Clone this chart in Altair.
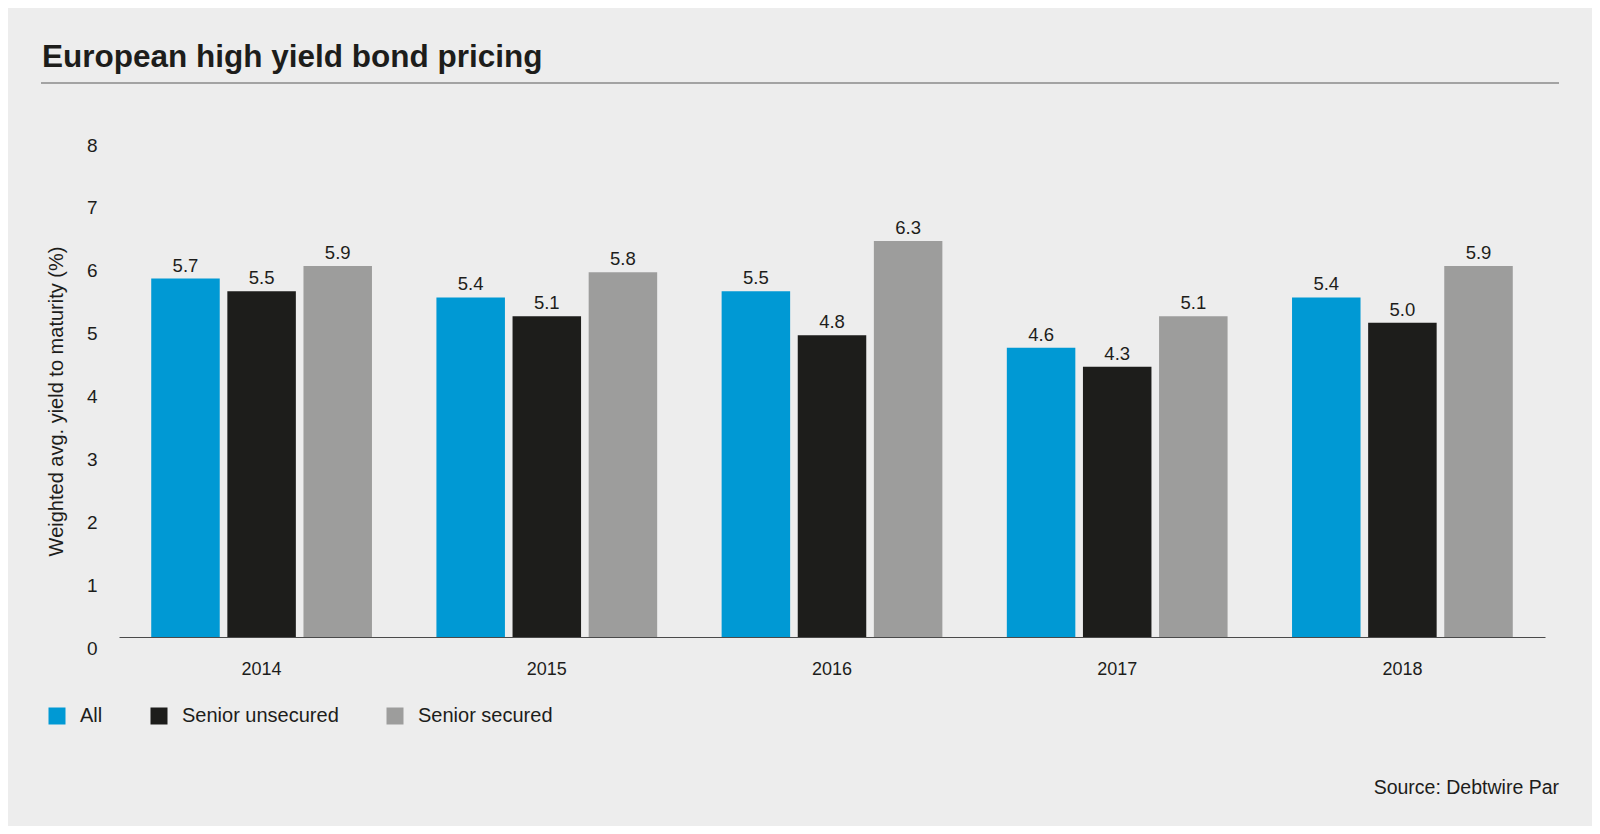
import altair as alt
import pandas as pd

# ---- data ----
years = ["2014", "2015", "2016", "2017", "2018"]
series = ["All", "Senior unsecured", "Senior secured"]
all_vals = [5.7, 5.4, 5.5, 4.6, 5.4]
unsecured_vals = [5.5, 5.1, 4.8, 4.3, 5.0]
secured_vals = [5.9, 5.8, 6.3, 5.1, 5.9]
colors = ["#0099d4", "#1d1d1b", "#9d9d9c"]
y_ticks = [0, 1, 2, 3, 4, 5, 6, 7, 8]
title_text = "European high yield bond pricing"
y_title = "Weighted avg. yield to maturity (%)"
source_text = "Source: Debtwire Par"

rows = []
for s, vals in zip(series, [all_vals, unsecured_vals, secured_vals]):
    for yr, v in zip(years, vals):
        rows.append({"year": yr, "series": s, "value": v, "label": f"{v:.1f}"})
df = pd.DataFrame(rows)

W, H = 1426, 503
INK = "#1d1d1b"
BG = "#ededed"
FONT = "Liberation Sans"

x_enc = alt.X(
    "year:N",
    sort=years,
    title=None,
    scale=alt.Scale(paddingInner=0.226, paddingOuter=0.113),
    axis=alt.Axis(
        labelAngle=0,
        ticks=False,
        tickSize=0,
        domainColor="#4a4a4a",
        domainWidth=1.2,
        labelFontSize=18,
        labelColor=INK,
        labelFont=FONT,
        labelPadding=32,
        labelBaseline="middle",
    ),
)
xo_enc = alt.XOffset("series:N", sort=series,
                     scale=alt.Scale(paddingInner=0.1, paddingOuter=0))
y_enc = alt.Y(
    "value:Q",
    scale=alt.Scale(domain=[0, 8], nice=False, zero=True),
    axis=alt.Axis(
        values=y_ticks,
        format="d",
        grid=False,
        domain=False,
        ticks=False,
        tickSize=0,
        labelPadding=22,
        labelOffset=11,
        labelFontSize=19,
        labelColor=INK,
        labelFont=FONT,
        title=y_title,
        titleFont=FONT,
        titleFontSize=20,
        titleFontWeight="normal",
        titleColor=INK,
        titleX=-63,
        titleY=267,
        titleAlign="center",
        titleBaseline="middle",
    ),
)

color_enc = alt.Color(
    "series:N",
    sort=series,
    scale=alt.Scale(domain=series, range=colors),
    legend=alt.Legend(
        title=None,
        orient="none",
        direction="horizontal",
        legendX=-72,
        legendY=572,
        symbolType="square",
        symbolSize=289,
        symbolStrokeWidth=0,
        symbolOpacity=1,
        labelFontSize=20,
        labelFont=FONT,
        labelColor=INK,
        labelOffset=13,
        columnPadding=46,
    ),
)

bars = alt.Chart(df).mark_bar().encode(
    x=x_enc, xOffset=xo_enc, y=y_enc, color=color_enc
)

labels = alt.Chart(df).mark_text(
    baseline="alphabetic", dy=-7, fontSize=18.5, font=FONT, color=INK
).encode(
    x=alt.X("year:N", sort=years),
    xOffset=alt.XOffset("series:N", sort=series),
    y=alt.Y("value:Q"),
    text="label:N",
)

deco = pd.DataFrame({"t": [title_text], "s": [source_text]})

title_mark = alt.Chart(deco).mark_text(
    align="left", baseline="alphabetic", fontSize=31.5, fontWeight="bold",
    font=FONT, color=INK
).encode(x=alt.value(-77), y=alt.value(-67), text="t:N")

rule_mark = alt.Chart(deco).mark_rule(color="#8a8a8a", strokeWidth=1.5).encode(
    x=alt.value(-78), x2=alt.value(1440), y=alt.value(-51)
)

source_mark = alt.Chart(deco).mark_text(
    align="right", baseline="middle", fontSize=19.5, font=FONT, color=INK
).encode(x=alt.value(1440), y=alt.value(654), text="s:N")

chart = alt.layer(bars, labels, title_mark, rule_mark, source_mark).properties(
    width=W,
    height=H,
    autosize=alt.AutoSizeParams(type="none"),
    padding={"left": 111, "top": 126, "right": 47, "bottom": 189},
    background=BG,
).configure_view(stroke=None)

chart.save("out.html", embed_options={"renderer": "svg", "actions": False})
